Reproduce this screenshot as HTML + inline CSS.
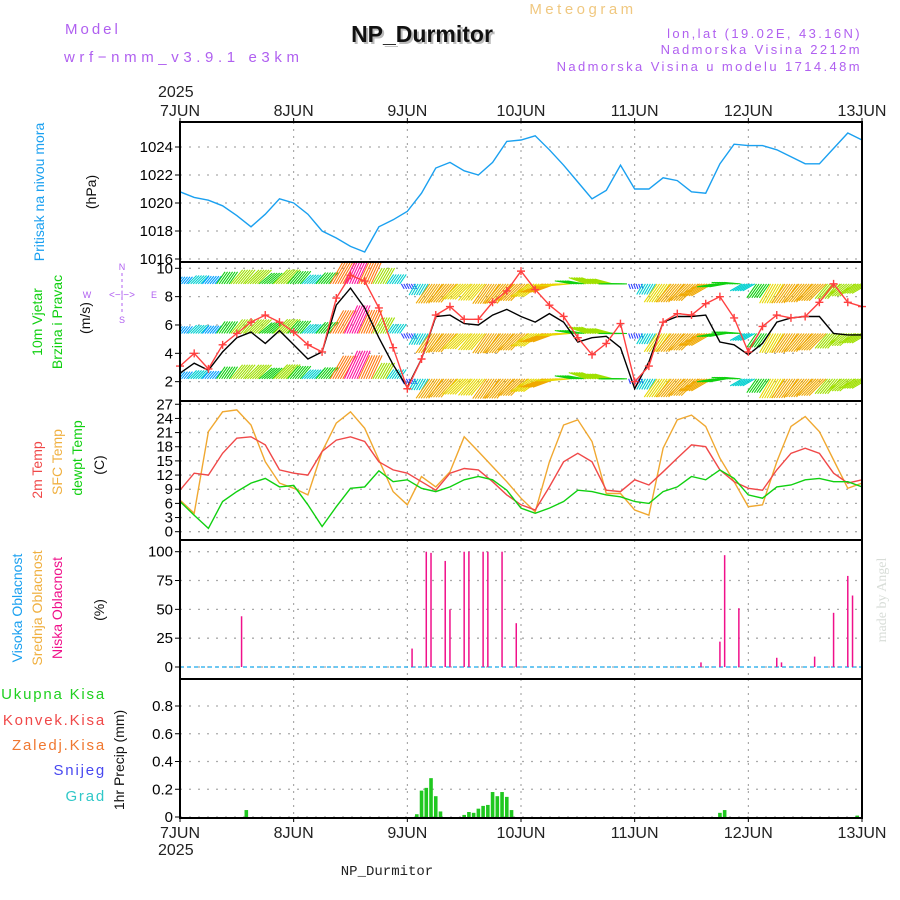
<!DOCTYPE html>
<html><head><meta charset="utf-8"><style>
html,body{margin:0;padding:0;background:#fff;}
svg{display:block;font-family:"Liberation Sans",sans-serif;}
</style></head><body>
<svg id="chart" width="900" height="900" viewBox="0 0 900 900" xmlns="http://www.w3.org/2000/svg">
<g id="grid"></g><g id="marks"></g><g id="axes"></g>
<text x="65" y="34" fill="#b060f0" font-size="15" letter-spacing="3">Model</text>
<text x="64" y="62" fill="#b060f0" font-size="15" letter-spacing="4.6">wrf−nmm_v3.9.1 e3km</text>
<text x="424" y="44" text-anchor="middle" font-size="23" font-weight="bold" fill="#bbb">NP_Durmitor</text>
<text x="422" y="42" text-anchor="middle" font-size="23" font-weight="bold" fill="#111">NP_Durmitor</text>
<text x="583" y="14" text-anchor="middle" font-size="15" fill="#f0c880" letter-spacing="3.5">Meteogram</text>
<text x="862" y="38" text-anchor="end" font-size="13" fill="#b060f0" letter-spacing="2.4">lon,lat (19.02E, 43.16N)</text>
<text x="862" y="54" text-anchor="end" font-size="13" fill="#b060f0" letter-spacing="2.4">Nadmorska Visina 2212m</text>
<text x="862" y="71" text-anchor="end" font-size="13" fill="#b060f0" letter-spacing="2.4">Nadmorska Visina u modelu 1714.48m</text>
<text x="387" y="875" text-anchor="middle" font-size="14" font-family="Liberation Mono" fill="#222">NP_Durmitor</text>
<text transform="translate(886,600) rotate(-90)" text-anchor="middle" font-size="14" font-family="Liberation Serif" fill="#d8ddd8">made by Angel</text>
<text transform="translate(44,192) rotate(-90)" text-anchor="middle" font-size="14" fill="#1aa0f0">Pritisak na nivou mora</text>
<text transform="translate(96,192) rotate(-90)" text-anchor="middle" font-size="14" fill="#111">(hPa)</text>
<text transform="translate(42,322) rotate(-90)" text-anchor="middle" font-size="14" fill="#10d010">10m Vjetar</text>
<text transform="translate(62,322) rotate(-90)" text-anchor="middle" font-size="14" fill="#10d010">Brzina i Pravac</text>
<text transform="translate(90,318) rotate(-90)" text-anchor="middle" font-size="14" fill="#111">(m/s)</text>
<g fill="#b060f0" font-size="9" text-anchor="middle">
<text x="87" y="298">W</text><text x="154" y="298">E</text>
<text x="122" y="270">N</text><text x="122" y="323">S</text>
<text x="122" y="298" font-size="10">&lt;−|−&gt;</text>
<line x1="122" y1="273" x2="122" y2="312" stroke="#b060f0" stroke-dasharray="3,3"/>
</g>
<text transform="translate(42,470) rotate(-90)" text-anchor="middle" font-size="14" fill="#f04848">2m Temp</text>
<text transform="translate(62,462) rotate(-90)" text-anchor="middle" font-size="14" fill="#f0b040">SFC Temp</text>
<text transform="translate(82,458) rotate(-90)" text-anchor="middle" font-size="14" fill="#10d010">dewpt Temp</text>
<text transform="translate(104,465) rotate(-90)" text-anchor="middle" font-size="14" fill="#111">(C)</text>
<text transform="translate(22,608) rotate(-90)" text-anchor="middle" font-size="14" fill="#1aa0f0">Visoka Oblacnost</text>
<text transform="translate(42,608) rotate(-90)" text-anchor="middle" font-size="14" fill="#f0b040">Srednja Oblacnost</text>
<text transform="translate(62,608) rotate(-90)" text-anchor="middle" font-size="14" fill="#f0108a">Niska Oblacnost</text>
<text transform="translate(104,610) rotate(-90)" text-anchor="middle" font-size="14" fill="#111">(%)</text>
<g font-size="15" text-anchor="end" letter-spacing="1.8">
<text x="106" y="699" fill="#20d020">Ukupna Kisa</text>
<text x="106" y="725" fill="#f04848">Konvek.Kisa</text>
<text x="106" y="750" fill="#f07830">Zaledj.Kisa</text>
<text x="106" y="775" fill="#4848f0">Snijeg</text>
<text x="106" y="801" fill="#30c8c8">Grad</text>
</g>
<text transform="translate(124,760) rotate(-90)" text-anchor="middle" font-size="14" fill="#111">1hr Precip (mm)</text>
</svg>
<script>
const days=["7JUN","8JUN","9JUN","10JUN","11JUN","12JUN","13JUN"];
const pressure=[1020.8,1020.4,1020.2,1019.8,1019.1,1018.3,1019.2,1020.3,1020.0,1019.2,1018.0,1017.5,1016.9,1016.5,1018.3,1018.8,1019.4,1020.7,1022.5,1022.9,1022.3,1022.0,1022.9,1024.4,1024.5,1024.8,1023.8,1022.7,1021.5,1020.3,1020.9,1022.7,1021.0,1021.0,1021.8,1021.6,1020.8,1020.7,1022.8,1024.2,1024.1,1024.1,1023.8,1023.3,1022.8,1022.8,1023.9,1025.0,1024.5];
const windSpeed=[2.6,3.3,2.8,4.1,5.1,5.5,4.7,5.6,4.6,3.6,4.1,7.4,8.6,7.2,5.1,3.2,1.6,3.6,6.6,6.7,6.1,6.0,6.7,7.1,6.6,6.2,6.8,6.2,4.8,5.1,5.2,4.4,1.5,3.4,6.2,6.6,6.6,6.7,4.8,4.6,3.9,4.7,6.2,6.5,6.6,6.6,5.4,5.3,5.3];
const windGust=[3.1,4.0,2.9,4.6,5.4,6.2,6.7,6.2,5.5,4.6,4.1,7.9,9.5,9.1,7.2,4.4,1.5,3.6,6.7,7.3,6.4,6.4,7.6,8.4,9.8,8.5,7.4,6.6,5.1,3.9,4.7,6.1,2.0,3.1,6.2,6.8,6.7,7.5,8.0,6.5,4.1,5.9,6.7,6.5,6.6,7.6,8.9,7.6,7.3];
const windDir=[40,45,40,35,40,45,50,45,40,45,40,30,25,25,30,35,150,210,215,220,225,220,215,220,225,235,250,265,280,290,285,270,160,210,215,220,225,240,260,275,240,215,210,215,220,225,220,230,240];
const windLevels=[8.9,5.4,2.2];
const temp2m=[8.8,12.4,12.0,16.6,19.8,20.1,18.4,13.1,12.4,12.0,17.0,19.4,20.1,19.1,14.8,13.1,12.4,10.6,8.8,12.4,13.4,13.1,10.6,7.8,5.7,4.6,9.5,14.8,16.6,14.8,8.8,8.5,11.0,9.9,12.7,15.6,18.4,18.0,13.1,10.6,9.2,8.8,13.1,16.6,17.7,16.6,12.4,10.3,11.0];
const tempSfc=[6.7,3.9,21.2,25.4,25.8,22.6,14.8,10.3,9.2,7.8,17.0,23.0,25.4,21.9,15.2,8.5,5.7,11.7,9.5,12.7,20.1,17.0,13.8,10.6,7.1,4.2,14.8,22.6,23.7,19.1,8.1,8.1,4.6,3.5,17.7,23.7,24.7,22.3,15.6,10.6,5.3,5.7,14.8,22.3,24.4,21.2,15.2,9.2,10.3];
const tempDew=[6.4,3.5,0.7,6.4,8.5,10.3,11.3,9.5,9.8,5.7,1.1,5.3,9.2,9.5,12.9,10.6,11.0,9.2,8.5,9.5,11.0,11.7,11.0,8.8,5.0,3.9,5.0,6.4,8.8,8.5,7.8,7.4,6.4,6.0,8.5,9.5,11.7,11.0,13.1,11.3,7.8,7.1,9.5,9.9,11.0,11.3,10.6,10.6,9.5];
const cloudHours=[13,49,52,53,56,57,60,61,64,65,68,71,110,114,115,118,126,127,134,138,141,142];
const cloudLow=[44,16,100,99,92,50,100,100,100,100,100,38,4,22,97,51,8,4,9,47,79,62];
const precipHours=[14,50,51,52,53,54,55,60,61,62,63,64,65,66,67,68,69,70,114,115,143];
const precipTotal=[0.05,0.02,0.19,0.21,0.28,0.15,0.04,0.015,0.036,0.03,0.06,0.08,0.087,0.18,0.15,0.18,0.145,0.05,0.03,0.05,0.01];
const pTicks=[1016,1018,1020,1022,1024];
const wTicks=[2,4,6,8,10];
const tTicks=[0,3,6,9,12,15,18,21,24,27];
const cTicks=[0,25,50,75,100];
const rTicks=[0,0.2,0.4,0.6,0.8];

const NS="http://www.w3.org/2000/svg";
const X0=180,X1=862,H=144;
const xH=h=>X0+(X1-X0)*h/H;
const xI=i=>xH(i*3);
const P={p:[122,262],w:[262,401],t:[401,540],c:[540,679],r:[679,818]};
const yP=v=>259-(v-1016)*14;
const yW=v=>268.3-(v-10)*14.17;
const yT=v=>531.7-v*4.72;
const yC=v=>667-v*1.153;
const yR=v=>817-v*138.75;
function mk(tag,attrs,parent){const e=document.createElementNS(NS,tag);for(const k in attrs)e.setAttribute(k,attrs[k]);document.getElementById(parent).appendChild(e);return e;}
function line(vals,yf,color,name){
  let d=vals.map((v,i)=>(i?'L':'M')+xI(i).toFixed(1)+','+yf(v).toFixed(1)).join('');
  const e=mk('path',{d:d,fill:'none',stroke:color,'stroke-width':1.4},'marks');
  
  
  return e;
}
function panel(key,ticks,yf,fmt,name){
  const [t,b]=P[key];
  for(let d=1;d<6;d++){
    const g=mk('line',{x1:xH(d*24),x2:xH(d*24),y1:t,y2:b,stroke:'#999','stroke-dasharray':'2,5'},'grid');
    
    
  }
  ticks.forEach(v=>{
    const y=yf(v);
    const g=mk('line',{x1:X0,x2:X1,y1:y,y2:y,stroke:'#aaa','stroke-dasharray':'2,7','stroke-width':1.3},'grid');
    
    
    mk('line',{x1:X0-5,x2:X0,y1:y,y2:y,stroke:'#000'},'axes');
    const tx=mk('text',{x:X0-7,y:y+5,'text-anchor':'end','font-size':15,fill:'#000'},'axes');
    tx.textContent=fmt(v);
    
    
  });
  const r=mk('rect',{x:X0,y:t,width:X1-X0,height:b-t,fill:'none',stroke:'#000','stroke-width':2},'axes');
  
  
}
panel('p',pTicks,yP,v=>v,'pressure');
panel('w',wTicks,yW,v=>v,'wind');
panel('t',tTicks,yT,v=>v,'temperature');
panel('c',cTicks,yC,v=>v,'cloud');
panel('r',rTicks,yR,v=>v===0?'0':v.toFixed(1),'precip');
days.forEach((d,i)=>{
  const x=xH(i*24);
  mk('line',{x1:x,x2:x,y1:118,y2:122,stroke:'#000'},'axes');
  mk('line',{x1:x,x2:x,y1:818,y2:822,stroke:'#000'},'axes');
  const a=mk('text',{x:x,y:116,'text-anchor':'middle','font-size':16,fill:'#222'},'axes');a.textContent=d;
  
  
  const b=mk('text',{x:x,y:838,'text-anchor':'middle','font-size':16,fill:'#222'},'axes');b.textContent=d;
  
  
});
[[97,'top-year'],[855,'bottom-year']].forEach(([y,n])=>{const e=mk('text',{x:158,y:y,'font-size':16,fill:'#222'},'axes');e.textContent='2025';
  
  });
line(pressure,yP,'#1aa0f0','pressure-line');
function wcol(s){if(s<2)return'#3040ff';if(s<3)return'#00a0ff';if(s<4)return'#00d0d0';if(s<5)return'#10d010';if(s<5.8)return'#a0e000';if(s<6.5)return'#e8d800';if(s<7.2)return'#f0a800';if(s<8)return'#ff7a10';if(s<8.5)return'#ff3040';return'#ff10a0';}
const clip=mk('clipPath',{id:'wclip'},'marks');
const cr=document.createElementNS(NS,'rect');cr.setAttribute('x',X0);cr.setAttribute('y',262);cr.setAttribute('width',X1-X0);cr.setAttribute('height',139);clip.appendChild(cr);
const wg=mk('g',{'clip-path':'url(#wclip)'},'marks');


windLevels.forEach(lv=>{
  windDir.forEach((dir,i)=>{
    const s=windSpeed[i],L=s*3.6,r=dir*Math.PI/180;
    const x=xI(i),y=yW(lv),dx=Math.sin(r)*L,dy=-Math.cos(r)*L;
    const c=wcol(s);
    [-6,-3.5,-1,1.5,4,6.5].forEach(off=>{
      const a=document.createElementNS(NS,'line');
      a.setAttribute('x1',x+off);a.setAttribute('y1',y);a.setAttribute('x2',x+off+dx);a.setAttribute('y2',y+dy);
      a.setAttribute('stroke',c);a.setAttribute('stroke-width',1.1);
      
      
      wg.appendChild(a);
    });
  });
});
line(windSpeed,yW,'#000','wind-speed-line');
line(windGust,yW,'#ff4040','wind-gust-line');
windGust.forEach((v,i)=>{
  const x=xI(i),y=yW(v);
  const m=mk('path',{d:`M${x-4},${y}h8M${x},${y-4}v8`,stroke:'#ff4040','stroke-width':1.4},'marks');
  
  
});
line(tempSfc,yT,'#f0a830','sfc-temp-line');
line(temp2m,yT,'#f04848','temp-2m-line');
line(tempDew,yT,'#10d010','dewpoint-line');
const zl=mk('line',{x1:X0,x2:X1,y1:yC(0),y2:yC(0),stroke:'#40b8f0','stroke-width':1.5,'stroke-dasharray':'4,3'},'marks');


cloudHours.forEach((h,i)=>{
  const b=mk('line',{x1:xH(h),x2:xH(h),y1:yC(0),y2:yC(cloudLow[i]),stroke:'#f0108a','stroke-width':1.5},'marks');
  
  
});
precipHours.forEach((h,i)=>{
  const y=yR(precipTotal[i]);
  const b=mk('rect',{x:xH(h)-1.8,y:y,width:3.6,height:yR(0)-y,fill:'#20c820'},'marks');
  
  
});
</script>
</body></html>
